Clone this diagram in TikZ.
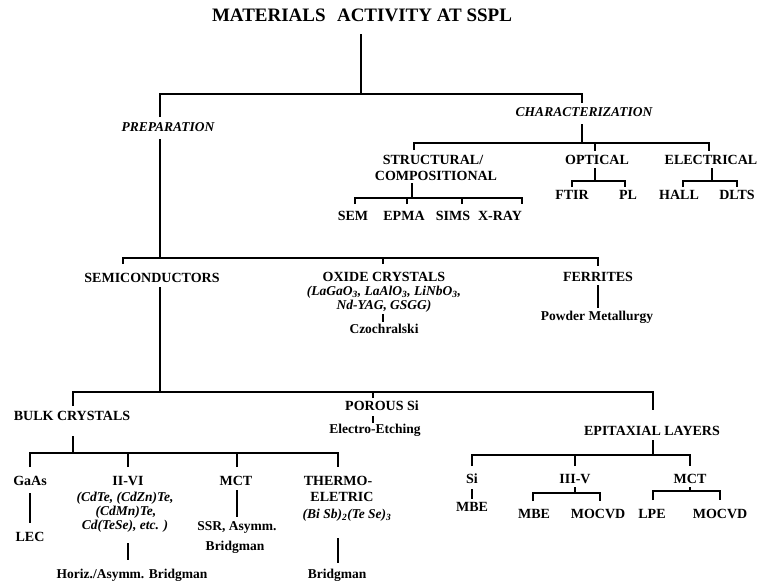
\documentclass[tikz,border=0pt]{standalone}
\usepackage{fontspec}
\setmainfont{Liberation Serif}
\newcommand\ttlfont{\fontsize{19}{22}\selectfont\bfseries}
\newcommand\lbfont{\fontsize{14}{16}\selectfont\bfseries}
\newcommand\lbifont{\fontsize{13.5}{16}\selectfont\bfseries\itshape}
\newcommand\smfont{\fontsize{13.5}{15}\selectfont\bfseries}
\newcommand\itfont{\fontsize{13.5}{15}\selectfont\bfseries\itshape}
\tikzset{
  base/.style={inner sep=0pt, outer sep=0pt, text height=0.66em, text depth=0pt},
  ttl/.style={base, font=\ttlfont},
  lb/.style={base, font=\lbfont},
  lbi/.style={base, font=\lbifont},
  sm/.style={base, font=\smfont},
  it/.style={base, font=\itfont},
  ln/.style={line width=1.7pt, line join=miter},
}
\begin{document}
\begin{tikzpicture}[x=1pt,y=-1pt]
\useasboundingbox (0,0) rectangle (759,584);
% ---------- nodes ----------
\node[ttl] (title) at (362,18) {MATERIALS\hspace{0.35em} ACTIVITY AT SSPL};
\node[lbi] (prep) at (168,128) {PREPARATION};
\node[lbi] (char) at (584,113) {CHARACTERIZATION};
\node[lb] (struct1) at (433,161) {STRUCTURAL/};
\node[lb] (struct2) at (436,177) {COMPOSITIONAL};
\node[lb] (opt) at (597,161) {OPTICAL};
\node[lb] (elec) at (711,161) {ELECTRICAL};
\node[lb] (sem) at (353,217) {SEM};
\node[lb] (epma) at (404,217) {EPMA};
\node[lb] (sims) at (453,217) {SIMS};
\node[lb] (xray) at (500,217) {X-RAY};
\node[lb] (ftir) at (572,196) {FTIR};
\node[lb] (pl) at (628,196) {PL};
\node[lb] (hall) at (679,196) {HALL};
\node[lb] (dlts) at (737,196) {DLTS};
\node[lb] (semi) at (152,279) {SEMICONDUCTORS};
\node[lb] (oxide) at (384,278) {OXIDE CRYSTALS};
\node[it] (oxf1) at (384,292) {(LaGaO\textsubscript{3}, LaAlO\textsubscript{3}, LiNbO\textsubscript{3},};
\node[it] (oxf2) at (384,306) {Nd-YAG, GSGG)};
\node[sm] (czo) at (384,330) {Czochralski};
\node[lb] (ferr) at (598,278) {FERRITES};
\node[sm] (powder) at (597,317) {Powder Metallurgy};
\node[lb] (bulk) at (72,417) {BULK CRYSTALS};
\node[lb] (porous) at (382,407) {POROUS Si};
\node[sm] (etch) at (375,430) {Electro-Etching};
\node[lb] (epi) at (652,432) {EPITAXIAL LAYERS};
\node[lb] (gaas) at (30,482) {GaAs};
\node[lb] (lec) at (30,538) {LEC};
\node[lb] (iivi) at (128,482) {II-VI};
\node[it] (iivi1) at (125,498) {(CdTe, (CdZn)Te,};
\node[it] (iivi2) at (126,512) {(CdMn)Te,};
\node[it] (iivi3) at (125,526) {Cd(TeSe), etc. )};
\node[sm] (horiz) at (132,575) {Horiz./Asymm. Bridgman};
\node[lb] (mct) at (236,482) {MCT};
\node[sm] (ssr) at (237,527) {SSR, Asymm.};
\node[sm] (bridg1) at (235,547) {Bridgman};
\node[lb] (thermo) at (338,482) {THERMO-};
\node[lb] (eletric) at (342,498) {ELETRIC};
\node[it] (bisb) at (347,515) {(Bi Sb)\textsubscript{2}(Te Se)\textsubscript{3}};
\node[sm] (bridg2) at (337,575) {Bridgman};
\node[lb] (si) at (472,480) {Si};
\node[lb] (mbe1) at (472,508) {MBE};
\node[lb] (iiiv) at (575,480) {III-V};
\node[lb] (mbe2) at (534,515) {MBE};
\node[lb] (mocvd1) at (598,515) {MOCVD};
\node[lb] (mct2) at (690,480) {MCT};
\node[lb] (lpe) at (652,515) {LPE};
\node[lb] (mocvd2) at (720,515) {MOCVD};
% ---------- junction coordinates ----------
\coordinate (t0) at (361,34);
\coordinate (m0) at (361,94);
\coordinate (mR) at (582,94);
\coordinate (p1) at (160,117);
\coordinate (p2) at (160,139);
\coordinate (c1) at (582,103);
\coordinate (c2) at (582,124);
\coordinate (c3) at (582,143);
\coordinate (sT) at (414,150);
\coordinate (oT) at (595,151);
\coordinate (eT) at (709,151);
\coordinate (s1) at (412,183);
\coordinate (s2) at (412,198);
\coordinate (k1) at (355,204);
\coordinate (k2) at (407,204);
\coordinate (k3) at (462,204);
\coordinate (k4) at (522,204);
\coordinate (o1) at (595,168);
\coordinate (o2) at (595,181);
\coordinate (f1) at (572,187);
\coordinate (f2) at (625,187);
\coordinate (e1) at (712,168);
\coordinate (e2) at (712,181);
\coordinate (h1) at (683,187);
\coordinate (h2) at (737,187);
\coordinate (q0) at (160,258);
\coordinate (q1) at (123,264);
\coordinate (q2) at (383,264);
\coordinate (q3) at (598,266);
\coordinate (z1) at (383,314);
\coordinate (z2) at (383,322);
\coordinate (r1) at (598,285);
\coordinate (r2) at (598,308);
\coordinate (u1) at (160,287);
\coordinate (u2) at (160,392);
\coordinate (b1) at (73,406);
\coordinate (b2) at (373,398);
\coordinate (b3) at (653,410);
\coordinate (w1) at (373,416);
\coordinate (w2) at (373,423);
\coordinate (v1) at (73,436);
\coordinate (v2) at (73,453);
\coordinate (g1) at (30,467);
\coordinate (g2) at (128,467);
\coordinate (g3) at (237,467);
\coordinate (g4) at (338,467);
\coordinate (ga1) at (30,493);
\coordinate (ga2) at (30,523);
\coordinate (ii1) at (128,543);
\coordinate (ii2) at (128,560);
\coordinate (mc1) at (237,490);
\coordinate (mc2) at (237,517);
\coordinate (th1) at (338,538);
\coordinate (th2) at (338,563);
\coordinate (x1) at (653,440);
\coordinate (x2) at (653,455);
\coordinate (y1) at (472,466);
\coordinate (y2) at (575,466);
\coordinate (y3) at (690,466);
\coordinate (si1) at (472,489);
\coordinate (si2) at (472,499);
\coordinate (iv1) at (575,487);
\coordinate (iv2) at (575,493);
\coordinate (iv3) at (533,501);
\coordinate (iv4) at (600,501);
\coordinate (mt1) at (690,487);
\coordinate (mt2) at (690,491);
\coordinate (mt3) at (653,500);
\coordinate (mt4) at (720,500);
% ---------- connectors ----------
\draw[ln] (t0) -- (m0);
\draw[ln] (p1) |- (m0) -| (c1);
\draw[ln] (c2) -- (c3);
\draw[ln] (sT) |- (c3) -| (eT);
\draw[ln] (oT) -- (oT |- c3);
\draw[ln] (s1) -- (s2);
\draw[ln] (k1) |- (s2) -| (k4);
\draw[ln] (k2) -- (k2 |- s2);
\draw[ln] (k3) -- (k3 |- s2);
\draw[ln] (o1) -- (o2);
\draw[ln] (f1) |- (o2) -| (f2);
\draw[ln] (e1) -- (e2);
\draw[ln] (h1) |- (e2) -| (h2);
\draw[ln] (p2) -- (q0);
\draw[ln] (q1) |- (q0) -| (q3);
\draw[ln] (q2) -- (q2 |- q0);
\draw[ln] (z1) -- (z2);
\draw[ln] (r1) -- (r2);
\draw[ln] (u1) -- (u2);
\draw[ln] (b1) |- (u2) -| (b3);
\draw[ln] (b2) -- (b2 |- u2);
\draw[ln] (w1) -- (w2);
\draw[ln] (v1) -- (v2);
\draw[ln] (g1) |- (v2) -| (g4);
\draw[ln] (g2) -- (g2 |- v2);
\draw[ln] (g3) -- (g3 |- v2);
\draw[ln] (ga1) -- (ga2);
\draw[ln] (ii1) -- (ii2);
\draw[ln] (mc1) -- (mc2);
\draw[ln] (th1) -- (th2);
\draw[ln] (x1) -- (x2);
\draw[ln] (y1) |- (x2) -| (y3);
\draw[ln] (y2) -- (y2 |- x2);
\draw[ln] (si1) -- (si2);
\draw[ln] (iv1) -- (iv2);
\draw[ln] (iv3) |- (iv2) -| (iv4);
\draw[ln] (mt1) -- (mt2);
\draw[ln] (mt3) |- (mt2) -| (mt4);
\end{tikzpicture}
\end{document}
